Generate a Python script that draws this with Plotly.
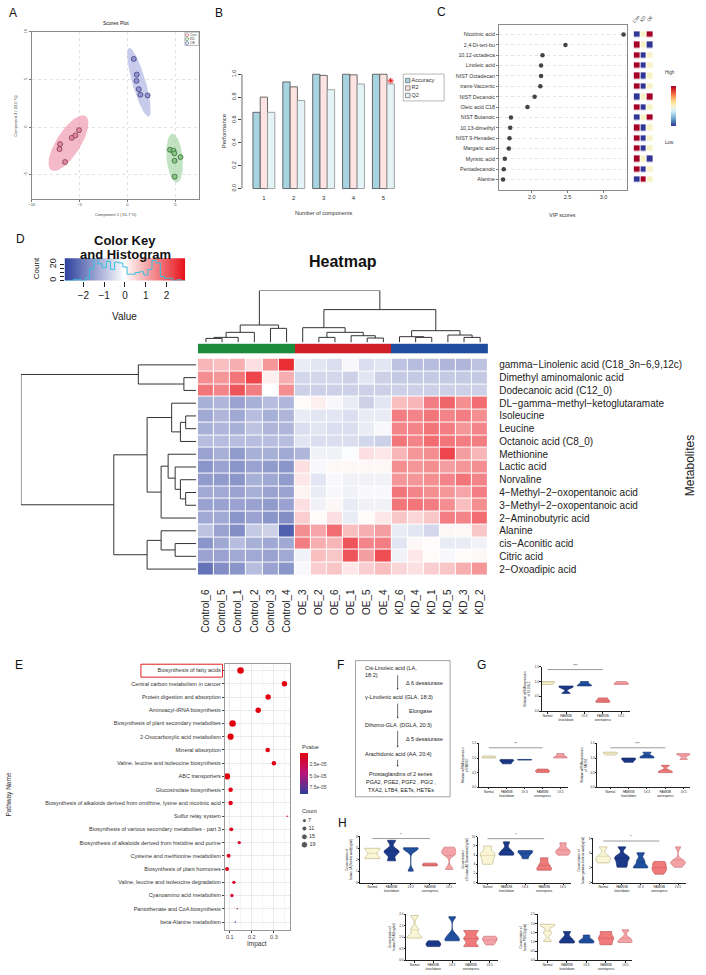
import numpy as np
import plotly.graph_objects as go

W, H = 706, 975
FONT = "Liberation Sans, Arial, sans-serif"

# ---------------- DATA ----------------
# A  PLS-DA scores
pc1_con = [-7.05, -7.11, -6.53, -5.83, -5.45, -5.07]
pc2_con = [-1.77, -2.29, -3.65, -1.11, -0.86, -0.31]
pc1_kd = [4.45, 4.82, 4.90, 5.55, 4.93, 4.93]
pc2_kd = [-2.36, -2.47, -2.74, -3.13, -3.51, -5.18]
pc1_oe = [0.66, 0.97, 0.94, 1.18, 1.35, 2.11]
pc2_oe = [7.16, 5.52, 4.86, 3.99, 3.41, 3.33]

# B  cross validation
n_comp = [1, 2, 3, 4, 5]
accuracy = [0.667, 0.933, 1.0, 1.0, 1.0]
r2 = [0.80, 0.89, 0.99, 0.995, 1.0]
q2 = [0.667, 0.77, 0.865, 0.915, 0.915]

# C  VIP
vip_names = ["Nicotinic acid", "2,4-Di-tert-bu", "10,12-octadeca", "Linoleic acid", "NIST Octadecan",
             "trans-Vaccenic", "NIST Decanoic", "Oleic acid C18", "NIST Butanoic", "10,13-dimethyl",
             "NIST 9-Hexadec", "Margaric acid", "Myristic acid", "Pentadecanoic", "Alanine"]
vip_scores = [3.28, 2.47, 2.15, 2.13, 2.13, 2.12, 2.04, 1.94, 1.71, 1.70, 1.69, 1.68, 1.625, 1.61, 1.60]
vip_groups = ["Con", "KD", "OE"]
vip_levels = [[1, 2, 3], [3, 2, 1], [3, 1, 2], [3, 1, 2], [3, 1, 2], [3, 1, 2], [1, 2, 3], [3, 1, 2],
              [1, 2, 3], [3, 1, 2], [3, 1, 2], [3, 1, 2], [3, 2, 1], [3, 1, 2], [1, 3, 2]]

# D  heatmap
hm_cols = ["Control_6", "Control_5", "Control_1", "Control_2", "Control_3", "Control_4",
           "OE_3", "OE_2", "OE_6", "OE_1", "OE_5", "OE_4",
           "KD_6", "KD_4", "KD_1", "KD_5", "KD_3", "KD_2"]
hm_rows = ["gamma\u2212Linolenic acid (C18_3n\u22126,9,12c)", "Dimethyl aminomalonic acid",
           "Dodecanoic acid (C12_0)", "DL\u2212gamma\u2212methyl\u2212ketoglutaramate", "Isoleucine",
           "Leucine", "Octanoic acid (C8_0)", "Methionine", "Lactic acid", "Norvaline",
           "4\u2212Methyl\u22122\u2212oxopentanoic acid", "3\u2212Methyl\u22122\u2212oxopentanoic acid",
           "2\u2212Aminobutyric acid", "Alanine", "cis\u2212Aconitic acid", "Citric acid", "2\u2212Oxoadipic acid"]
hm_values = [
    [0.9, 0.8, 1.0, 0.4, 1.3, 2.6, -0.3, -0.4, -0.5, -0.1, -0.5, -0.4, -0.9, -1.0, -1.0, -1.1, -1.1, -0.9],
    [1.4, 1.3, 1.7, 2.3, 0.2, 1.0, -0.6, -0.6, -0.6, -0.7, -0.4, -0.7, -0.8, -0.8, -0.8, -0.8, -0.8, -0.8],
    [1.7, 1.5, 2.1, 1.6, 0.0, 1.4, -0.7, -0.7, -0.7, -0.7, -0.7, -0.7, -0.7, -0.7, -0.7, -0.7, -0.7, -0.7],
    [-1.2, -1.1, -1.4, -1.2, -1.0, -1.1, 0.05, 0.2, -0.1, -0.3, -0.7, -0.4, 0.8, 0.9, 1.6, 1.9, 1.4, 1.8],
    [-1.3, -1.1, -1.3, -1.0, -1.2, -1.1, -0.3, -0.4, -0.4, -0.5, -0.3, -0.3, 1.6, 1.5, 1.7, 1.5, 1.6, 1.4],
    [-1.2, -1.1, -1.2, -0.9, -1.1, -1.1, -0.5, -0.4, -0.5, -0.5, -0.3, -0.1, 1.5, 1.5, 1.7, 1.6, 1.3, 1.5],
    [-1.0, -1.0, -1.0, -1.0, -1.0, -1.0, -0.4, -0.5, -0.5, -0.5, -0.6, -0.7, 1.7, 1.5, 1.8, 1.7, 1.6, 1.6],
    [-1.4, -1.2, -1.5, -1.2, -1.2, -1.3, -1.1, -0.2, -0.2, -0.05, 0.4, 0.3, 0.9, 1.3, 1.4, 2.3, 1.2, 0.9],
    [-1.6, -1.4, -1.6, -1.4, -1.5, -1.6, 0.4, -0.1, 0.1, 0.1, 0.1, 0.1, 1.4, 1.3, 1.4, 1.2, 1.3, 1.4],
    [-1.5, -1.5, -1.6, -1.2, -1.3, -1.5, 0.3, -0.4, -0.1, -0.2, -0.2, -0.2, 1.3, 1.3, 1.4, 1.5, 1.7, 1.5],
    [-1.3, -1.3, -1.4, -1.2, -1.4, -1.4, 0.15, -0.3, -0.1, -0.2, -0.1, -0.1, 1.7, 1.5, 1.4, 1.3, 1.1, 1.6],
    [-1.4, -1.4, -1.4, -1.4, -1.5, -1.4, 0.4, -0.2, 0.1, -0.3, -0.2, -0.2, 1.7, 1.7, 1.6, 1.4, 0.8, 1.4],
    [-1.3, -1.3, -1.6, -1.4, -1.6, -1.7, 0.6, 0.05, 0.4, -0.3, 0.05, 0.3, 0.7, 0.5, 0.7, 1.6, 1.5, 1.8],
    [-0.9, -1.4, -1.7, -0.8, -0.7, -2.4, 1.4, 1.1, 1.8, 0.8, 1.0, 1.2, -0.3, -0.4, -0.6, 0.1, 0.1, 0.7],
    [-1.6, -1.3, -1.0, -1.2, -1.3, -1.3, 1.6, 1.0, 0.9, 2.1, 1.5, 1.6, -0.4, 0.1, 0.05, -0.3, -0.3, -0.2],
    [-1.4, -1.4, -1.3, -1.3, -1.4, -1.3, -0.2, 0.8, 0.7, 2.1, 1.2, 2.2, -0.2, 0.3, 0.05, -0.1, 0.05, 0.1],
    [-2.1, -1.7, -1.6, -1.0, -1.4, -1.6, -0.1, 0.6, 0.7, 0.3, 0.6, 0.8, 0.5, 0.4, 0.6, 0.7, 1.0, 1.3],
]
# dendrograms: (left, right, merge height); leaves numbered in display order
col_linkage = [(0, 1, 0.77), (18, 2, 0.97), (19, 3, 1.94), (4, 5, 2.71), (20, 21, 3.35),
               (7, 8, 0.97), (10, 11, 0.84), (9, 24, 1.29), (23, 25, 1.94), (6, 26, 2.84),
               (13, 14, 0.97), (12, 28, 1.10), (16, 17, 0.97), (15, 30, 1.42), (29, 31, 2.26),
               (27, 32, 6.32), (22, 33, 10.0)]
row_linkage = [(1, 2, 0.7), (0, 17, 3.3),
               (14, 15, 1.2), (13, 19, 2.0), (20, 16, 2.8),
               (4, 5, 0.6), (22, 6, 0.9), (3, 23, 1.4), (10, 11, 0.6), (9, 25, 0.9), (8, 26, 1.2),
               (7, 27, 1.6), (28, 12, 2.0), (24, 29, 2.8), (30, 21, 4.7), (18, 31, 10.0)]

# E  pathway enrichment
pathways = ["Biosynthesis of fatty acids", "Central carbon metabolism in cancer",
            "Protein digestion and absorption", "Aminoacyl-tRNA biosynthesis",
            "Biosynthesis of plant secondary metabolites", "2-Oxocarboxylic acid metabolism",
            "Mineral absorption", "Valine, leucine and isoleucine biosynthesis", "ABC transporters",
            "Glucosinolate biosynthesis",
            "Biosynthesis of alkaloids derived from ornithine, lysine and nicotinic acid",
            "Sulfur relay system", "Biosynthesis of various secondary metabolites - part 3",
            "Biosynthesis of alkaloids derived from histidine and purine",
            "Cysteine and methionine metabolism", "Biosynthesis of plant hormones",
            "Valine, leucine and isoleucine degradation", "Cyanoamino acid metabolism",
            "Pantothenate and CoA biosynthesis", "beta-Alanine metabolism"]
impact = [0.149, 0.348, 0.274, 0.229, 0.113, 0.104, 0.272, 0.300, 0.088, 0.104,
          0.104, 0.360, 0.107, 0.143, 0.095, 0.088, 0.119, 0.110, 0.134, 0.125]
pvalue = [1e-7, 2e-7, 3e-7, 4e-7, 1e-7, 2e-7, 1e-6, 2e-6, 1e-6, 3e-6,
          4e-6, 5e-6, 6e-6, 1.2e-5, 8e-6, 6e-6, 1.0e-5, 1.4e-5, 6.0e-5, 8.5e-5]
hits = [19, 13, 13, 13, 19, 17, 9, 9, 17, 9, 9, 1, 7, 5, 7, 7, 5, 5, 1, 1]
count_breaks = [7, 11, 15, 19]

# G / H  violin data
cat_labels = ["Normal", "FAM83B<br>knockdown", "LV-3", "FAM83B<br>overexpress", "LV-5"]
g_elovl5 = [[0.9, 0.98, 1.0], [0.6, 0.8, 0.85], [0.85, 0.88, 1.0], [0.3, 0.35, 0.45], [0.9, 0.92, 1.0]]
g_fads2 = [[1.0, 1.02, 1.07], [0.8, 0.9, 0.95], [0.93, 0.94, 0.95], [0.5, 0.55, 0.62], [1.0, 1.02, 1.15]]
g_fads1 = [[1.1, 1.18, 1.2], [0.85, 0.95, 1.0], [1.0, 1.05, 1.2], [0.5, 0.55, 0.75], [0.95, 1.12, 1.15]]
h_la = [[2.1, 2.2, 2.9, 3.0], [1.9, 2.6, 2.8, 3.7], [1.0, 2.9, 3.0, 3.05], [1.45, 1.5, 1.7],
        [1.15, 2.5, 2.7, 3.1]]
h_d6 = [[4.0, 5.0, 6.0, 6.5, 8.0], [6.0, 6.2, 7.0, 8.9], [5.2, 6.5, 6.8, 7.0], [2.7, 3.0, 4.0, 5.4],
        [6.0, 6.8, 7.0, 8.7]]
h_gla = [[2.7, 3.2, 3.6, 4.9], [2.1, 2.7, 3.3, 3.6, 4.9], [2.0, 2.2, 3.0, 4.1], [1.15, 1.7, 2.0, 2.5, 2.9],
         [2.1, 2.6, 2.8, 3.0, 4.9]]
h_pga2 = [[0.97, 1.02, 1.35, 1.95], [0.6, 0.7, 0.85], [0.85, 0.9, 1.1, 1.9], [0.6, 0.95, 1.3],
          [0.67, 0.85, 0.95, 1.05]]
h_pge2 = [[1.03, 1.5, 1.9, 1.96], [0.94, 1.0, 1.2, 1.57], [0.94, 1.0, 1.1, 1.38], [0.85, 1.1, 1.3, 1.57],
          [0.97, 1.0, 1.2, 1.66]]

# ---------------- helpers ----------------
fig = go.Figure()
annotations, shapes, axes = [], [], {}
counter = [0]


def new_axes(x0, x1, y0, y1, xr=None, yr=None):
    counter[0] += 1
    i = counter[0]
    s = '' if i == 1 else str(i)
    xa = dict(domain=[x0 / W, x1 / W], anchor='y' + s, range=xr, visible=False, showgrid=False,
              zeroline=False, fixedrange=True)
    ya = dict(domain=[1 - y1 / H, 1 - y0 / H], anchor='x' + s, range=yr, visible=False, showgrid=False,
              zeroline=False, fixedrange=True)
    axes['xaxis' + s] = xa
    axes['yaxis' + s] = ya
    return 'x' + s, 'y' + s, xa, ya


def text(t, x, y, size, xanchor='center', yanchor='middle', angle=0, color='#111', bold=False):
    if bold:
        t = '<b>' + t + '</b>'
    annotations.append(dict(text=t, x=x / W, y=1 - y / H, xref='paper', yref='paper', showarrow=False,
                            xanchor=xanchor, yanchor=yanchor, textangle=angle,
                            font=dict(size=size, color=color, family=FONT)))


def rect(x0, y0, x1, y1, color, width=1.0):
    shapes.append(dict(type='rect', xref='paper', yref='paper', x0=x0 / W, x1=x1 / W, y0=1 - y1 / H,
                       y1=1 - y0 / H, line=dict(color=color, width=width), fillcolor='rgba(0,0,0,0)'))


def dendro(linkage, n):
    pos = {i: float(i) for i in range(n)}
    hgt = {i: 0.0 for i in range(n)}
    ps, hs = [], []
    for k, (a, b, h) in enumerate(linkage):
        ps += [pos[a], pos[a], pos[b], pos[b], None]
        hs += [hgt[a], h, h, hgt[b], None]
        pos[n + k] = (pos[a] + pos[b]) / 2
        hgt[n + k] = h
    return ps, hs


def ellipse(xs, ys, level=2.4477):
    pts = np.vstack([xs, ys])
    m = pts.mean(axis=1)
    vals, vecs = np.linalg.eigh(np.cov(pts))
    t = np.linspace(0, 2 * np.pi, 120)
    circ = np.vstack([np.cos(t), np.sin(t)]) * (np.sqrt(vals)[:, None] * level)
    e = vecs @ circ + m[:, None]
    return e[0], e[1]


# panel letters
for L, x, y in [("A", 10, 9.5), ("B", 217, 9.5), ("C", 440.5, 8.5), ("D", 18, 236.5), ("E", 16, 665),
                ("F", 338.5, 665.5), ("G", 481, 665.5), ("H", 341, 824)]:
    text(L, x, y, 12)

# ---------------- A ----------------
xa_id, ya_id, xa, ya = new_axes(29, 197, 28, 196, [-10, 7.5], [-7.5, 10])
axstyle = dict(visible=True, showline=True, mirror=True, linecolor='#8a8a8a', linewidth=0.8,
               showgrid=True, gridcolor='#e2e2e2', griddash='dot', ticks='outside', ticklen=2,
               tickcolor='#777', tickfont=dict(size=4, color='#444'))
xa.update(axstyle, tickvals=[-10, -5, 0, 5])
ya.update(axstyle, tickvals=[-5, 0, 5, 10], tickangle=-90)
text("Scores Plot", 113, 19.3, 5)
text("Component 1 ( 61.7 %)", 113, 212, 4, color='#444')
text("Component 2 ( 22.0 %)", 12.5, 112, 4, angle=-90, color='#444')
grpA = [(pc1_con, pc2_con, 'rgba(238,140,165,0.6)', '#e58aa0', '#6e2a40'),
        (pc1_kd, pc2_kd, 'rgba(160,212,160,0.65)', '#86c686', '#2e5e2e'),
        (pc1_oe, pc2_oe, 'rgba(172,175,228,0.65)', '#9595d4', '#34346e')]
for xs, ys, efill, pfill, pline in grpA:
    ex, ey = ellipse(xs, ys)
    fig.add_trace(go.Scatter(x=ex, y=ey, xaxis=xa_id, yaxis=ya_id, mode='lines', fill='toself',
                             fillcolor=efill, line=dict(width=0), hoverinfo='skip'))
for xs, ys, efill, pfill, pline in grpA:
    fig.add_trace(go.Scatter(x=xs, y=ys, xaxis=xa_id, yaxis=ya_id, mode='markers',
                             marker=dict(size=5, color=pfill, line=dict(color=pline, width=0.7))))
# A legend
rect(182.7, 28.3, 196.7, 41.7, '#888', 0.6)
lx, ly, lxa, lya = new_axes(182.7, 196.7, 28.3, 41.7, [0, 14], [13.4, 0])
fig.add_trace(go.Scatter(x=[2.2, 2.2, 2.2], y=[3, 7, 11], xaxis=lx, yaxis=ly, mode='markers+text',
                         text=["Con", "KD", "OE"], textposition='middle right',
                         textfont=dict(size=3.5, color='#444', family=FONT),
                         marker=dict(size=3, symbol='circle-open', color=['#d9607e', '#4a9a4a', '#6a6ac0'],
                                     line=dict(width=0.7))))

# ---------------- B ----------------
xa_id, ya_id, xa, ya = new_axes(240, 398, 61.5, 190.3, [0.267, 5.533], [-0.04, 1.08])
xa.update(visible=True, showline=False, tickvals=n_comp, ticks='', tickfont=dict(size=6, color='#333'))
ya.update(visible=True, showline=False, tickvals=[0, 0.2, 0.4, 0.6, 0.8, 1.0],
          ticktext=["0.0", "0.2", "0.4", "0.6", "0.8", "1.0"], tickangle=-90, ticks='outside', ticklen=3,
          tickcolor='#444', tickfont=dict(size=5.5, color='#333'))
shapes.append(dict(type='line', xref=xa_id + ' domain', yref=ya_id, x0=0, x1=0, y0=0, y1=1,
                   line=dict(color='#444', width=0.8)))
for vals, col, lc in [(accuracy, '#a8d4e2', '#5a5a5a'), (r2, '#fde3e1', '#5a5a5a'), (q2, '#e3f3f6', '#9a9a9a')]:
    fig.add_trace(go.Bar(x=n_comp, y=vals, xaxis=xa_id, yaxis=ya_id, marker=dict(color=col, line=dict(color=lc, width=0.9))))
fig.add_trace(go.Scatter(x=[n_comp[-1] + 0.244], y=[q2[-1] + 0.028], xaxis=xa_id, yaxis=ya_id, mode='markers',
                         marker=dict(symbol='asterisk-open', size=5, color='#e02020', line=dict(color='#e02020', width=1))))
text("Performance", 222, 128, 6, angle=-90, color='#333')
text("Number of components", 322, 210, 5.5, color='#333')
rect(402, 70.5, 443, 97.5, '#999', 0.7)
bx, by, bxa, bya = new_axes(402, 443, 70.5, 97.5, [0, 41], [27, 0])
fig.add_trace(go.Scatter(x=[4.5, 4.5, 4.5], y=[6.5, 14, 21.5], xaxis=bx, yaxis=by, mode='markers+text',
                         text=["Accuracy", "R2", "Q2"], textposition='middle right',
                         textfont=dict(size=5.5, color='#333', family=FONT),
                         marker=dict(symbol='square', size=4.5, color=['#a8d4e2', '#fde3e1', '#e3f3f6'],
                                     line=dict(color='#666', width=0.7))))

# ---------------- C ----------------
yrC = [14.99, -0.96]
xa_id, ya_id, xa, ya = new_axes(498, 627, 20.7, 187, [1.542, 3.333], yrC)
xa.update(visible=True, showline=True, mirror=True, linecolor='#8a8a8a', linewidth=0.8, tickvals=[2.0, 2.5, 3.0],
          ticktext=["2.0", "2.5", "3.0"], ticks='outside', ticklen=2, tickcolor='#777',
          tickfont=dict(size=5.5, color='#333'))
ya.update(visible=True, showline=True, mirror=True, linecolor='#8a8a8a', linewidth=0.8,
          tickvals=list(range(15)), ticktext=vip_names, ticks='outside', ticklen=2, tickcolor='#777',
          tickfont=dict(size=5.3, color='#333'), showgrid=True, gridcolor='#e4e4e4', griddash='dot')
fig.add_trace(go.Scatter(x=vip_scores, y=list(range(15)), xaxis=xa_id, yaxis=ya_id, mode='markers',
                         marker=dict(size=4.5, color='#444')))
text("VIP scores", 562, 212, 5.5, color='#333')
sx, sy, sxa, sya = new_axes(633.3, 653.3, 20.7, 187, [-0.5, 2.5], yrC)
rdylbu = [[0, '#313695'], [0.1, '#4575b4'], [0.2, '#74add1'], [0.3, '#abd9e9'], [0.4, '#e0f3f8'],
          [0.5, '#f7f3c6'], [0.6, '#fee090'], [0.7, '#fdae61'], [0.8, '#f46d43'], [0.9, '#d73027'],
          [1.0, '#a50026']]
fig.add_trace(go.Heatmap(z=vip_levels, x=[0, 1, 2], y=list(range(15)), xaxis=sx, yaxis=sy, zmin=1, zmax=3,
                         colorscale=rdylbu, xgap=1, ygap=4.6,
                         colorbar=dict(x=661 / W, xanchor='left', y=1 - 103 / H, yanchor='middle',
                                       len=60, lenmode='pixels', thickness=5, thicknessmode='pixels',
                                       showticklabels=False, ticks='', outlinewidth=0)))
for j, g in enumerate(vip_groups):
    text(g, 636.6 + 6.7 * j, 15, 4.5, angle=-50, color='#333')
text("High", 663, 68.5, 4.5, xanchor='left', color='#333')
text("Low", 663, 139, 4.5, xanchor='left', color='#333')

# ---------------- D ----------------
HM_SCALE = [[0, '#2b3f9e'], [0.5, '#ffffff'], [1, '#e8141c']]
ZL = 2.9
# color key with histogram
kx, ky, kxa, kya = new_axes(62, 183, 255.7, 278.3, [-ZL, ZL], [0, 28])
key_x = np.linspace(-ZL, ZL, 121)
fig.add_trace(go.Heatmap(z=[key_x, key_x], x=key_x, y=[0, 28], xaxis=kx, yaxis=ky, zmin=-ZL, zmax=ZL,
                         colorscale=HM_SCALE, showscale=False, hoverinfo='skip'))
allv = np.array(hm_values).ravel()
cnt, edges = np.histogram(allv, bins=np.arange(-ZL, ZL + 0.01, 0.2))
fig.add_trace(go.Scatter(x=edges, y=np.append(cnt, cnt[-1]), xaxis=kx, yaxis=ky, mode='lines',
                         line=dict(color='#35c0df', width=1, shape='hv'), hoverinfo='skip'))
kxa.update(visible=True, showline=False, tickvals=[-2, -1, 0, 1, 2], ticktext=["\u22122", "\u22121", "0", "1", "2"],
           ticks='outside', ticklen=5, tickcolor='#222', tickfont=dict(size=10, color='#222'))
kya.update(visible=True, showline=False, tickvals=[0, 5, 10, 15, 20], ticktext=["0", "", "", "", "20"],
           tickangle=-90, ticks='outside', ticklen=4, tickcolor='#222', tickfont=dict(size=9, color='#222'))
text("Color Key", 123, 238, 13, bold=True)
text("and Histogram", 123, 252.5, 13, bold=True)
text("Value", 122, 314, 10, color='#222')
text("Count", 34, 266, 8, angle=-90, color='#222')
text("Heatmap", 341.5, 259, 16, bold=True)
text("Metabolites", 690, 465, 12, angle=-90, color='#222')

n_r, n_c = len(hm_rows), len(hm_cols)
HX0, HX1, HY0, HY1 = 195.7, 487.3, 356.7, 575
# column dendrogram
cx, cy, cxa, cya = new_axes(HX0, HX1, 288.3, 340.5, [-0.5, n_c - 0.5], [0, 10])
ps, hs = dendro(col_linkage, n_c)
fig.add_trace(go.Scatter(x=ps, y=hs, xaxis=cx, yaxis=cy, mode='lines', line=dict(color='#333', width=1)))
# side colour bar
grp_id = [0 if c.startswith("Control") else (1 if c.startswith("OE") else 2) for c in hm_cols]
gx, gy, gxa, gya = new_axes(HX0, HX1, 341.7, 351.7, [-0.5, n_c - 0.5], [-0.5, 0.5])
fig.add_trace(go.Heatmap(z=[grp_id], x=list(range(n_c)), y=[0], xaxis=gx, yaxis=gy, zmin=0, zmax=2,
                         colorscale=[[0, '#1b8a3a'], [0.25, '#1b8a3a'], [0.25, '#cf1f27'], [0.75, '#cf1f27'],
                                     [0.75, '#1f4c9c'], [1, '#1f4c9c']], showscale=False))
# heatmap
hx, hy, hxa, hya = new_axes(HX0, HX1, HY0, HY1, [-0.5, n_c - 0.5], [n_r - 0.5, -0.5])
fig.add_trace(go.Heatmap(z=hm_values, x=list(range(n_c)), y=list(range(n_r)), xaxis=hx, yaxis=hy,
                         zmin=-ZL, zmax=ZL, colorscale=HM_SCALE, showscale=False, xgap=1, ygap=1))
hxa.update(visible=True, showline=False, tickvals=list(range(n_c)), ticktext=hm_cols, tickangle=-90,
           ticks='outside', ticklen=9, tickcolor='rgba(0,0,0,0)', tickfont=dict(size=10, color='#222'))
hya.update(visible=True, showline=False, side='right', tickvals=list(range(n_r)), ticktext=hm_rows,
           ticks='outside', ticklen=8, tickcolor='rgba(0,0,0,0)', tickfont=dict(size=10, color='#222'))
# row dendrogram
rx, ry, rxa, rya = new_axes(18, 194, HY0, HY1, [10, 0], [n_r - 0.5, -0.5])
ps, hs = dendro(row_linkage, n_r)
fig.add_trace(go.Scatter(x=hs, y=ps, xaxis=rx, yaxis=ry, mode='lines', line=dict(color='#333', width=1)))

# ---------------- E ----------------
ex_, ey_, exa, eya = new_axes(222.7, 288, 664, 931.7, [0.0775, 0.372], [19.6, -0.5])
exa.update(visible=True, showline=True, mirror=True, linecolor='#9a9a9a', linewidth=0.7, showgrid=True,
           gridcolor='#ebebeb', gridwidth=0.6, tickvals=[0.1, 0.2, 0.3], ticks='outside', ticklen=2,
           tickcolor='#444', tickfont=dict(size=5.5, color='#444'),
           minor=dict(tickvals=[0.15, 0.25, 0.35], showgrid=True, gridcolor='#f5f5f5', ticks=''))
eya.update(visible=True, showline=True, mirror=True, linecolor='#9a9a9a', linewidth=0.7, showgrid=True,
           gridcolor='#ebebeb', gridwidth=0.6, tickvals=list(range(len(pathways))), ticktext=pathways,
           ticks='outside', ticklen=2, tickcolor='#444', tickfont=dict(size=5.5, color='#333'))


def hit_size(c):
    return 1.5 * np.sqrt(c)


E_SCALE = [[0, '#2f3f9c'], [0.5, '#b8157a'], [1, '#e3000f']]
fig.add_trace(go.Scatter(x=impact, y=list(range(len(pathways))), xaxis=ex_, yaxis=ey_, mode='markers',
                         marker=dict(size=[hit_size(c) for c in hits], color=[-p for p in pvalue],
                                     cmin=-9e-5, cmax=0, colorscale=E_SCALE, line=dict(width=0), opacity=1,
                                     colorbar=dict(x=298 / W, xanchor='left', y=1 - 774.5 / H, yanchor='middle',
                                                   len=41, lenmode='pixels', thickness=8, thicknessmode='pixels',
                                                   tickvals=[-2.5e-5, -5e-5, -7.5e-5],
                                                   ticktext=["2.5e-05", "5.0e-05", "7.5e-05"],
                                                   ticks='', tickfont=dict(size=5, color='#444'),
                                                   outlinewidth=0, xpad=0, ypad=0))))
text("Pvalue", 298, 748, 5.5, xanchor='left', color='#333')
text("Impact", 255, 945.5, 6.5, color='#333')
text("Pathway Name", 6.5, 795, 6.5, angle=-90, color='#333')
rect(138.5, 664.3, 220.5, 677.3, '#e02020', 1)
text("Count", 298, 811.7, 5.5, xanchor='left', color='#333')
cx2, cy2, _, _ = new_axes(298, 330, 806, 850, [0, 32], [44, 0])
fig.add_trace(go.Scatter(x=[4.7] * 4, y=[15.7, 23.7, 32, 40], xaxis=cx2, yaxis=cy2, mode='markers+text',
                         text=[str(c) for c in count_breaks], textposition='middle right',
                         textfont=dict(size=5.5, color='#333', family=FONT),
                         marker=dict(size=[hit_size(c) for c in count_breaks], color='#111')))

# ---------------- F ----------------
rect(354, 660.7, 449, 797.7, '#777', 0.7)
FL = 362
text("Cis-Linoleic acid (LA,", FL, 668, 5.5, xanchor='left', color='#222')
text("18:2)", FL, 675.5, 5.5, xanchor='left', color='#222')
text("\u0394 6 desaturase", 403, 683.3, 5.5, xanchor='left', color='#222')
text("\u03b3-Linolenic acid (GLA, 18:3)", FL, 697.3, 5.5, xanchor='left', color='#222')
text("Elongase", 406, 711.7, 5.5, xanchor='left', color='#222')
text("Dihomo-GLA  (DGLA, 20:3)", FL, 725.7, 5.5, xanchor='left', color='#222')
text("\u0394 5 desaturase", 403, 740, 5.5, xanchor='left', color='#222')
text("Arachidonic acid (AA, 20:4)", FL, 754.3, 5.5, xanchor='left', color='#222')
text("Prostaglandins of 2 series", 400, 775, 5.5, color='#222')
text("PGA2, PGE2, PGF2 , PGI2 ,", 400, 783.3, 5.5, color='#222')
text("TXA2, LTB4, EETs, HETEs", 400, 791.3, 5.5, color='#222')
for y0, y1 in [(674, 690), (702.5, 719), (730, 748), (759, 767.5)]:
    annotations.append(dict(text='', x=396.3 / W, y=1 - y1 / H, xref='paper', yref='paper', showarrow=True,
                            ax=0, ay=-(y1 - y0), axref='pixel', ayref='pixel', arrowhead=2, arrowsize=0.5,
                            arrowwidth=0.7, arrowcolor='#333'))

# ---------------- G / H ----------------
vfill = ['#faf5d6', '#1b3a8a', '#20509e', '#ee7a7a', '#f3a2a6']
vline = ['#b5ad78', '#0d2260', '#0f2d6e', '#b84848', '#c86a70']


def violin_panel(x0, x1, y0, y1, xr, ymax, ytv, ytt, groups, ytitle, ytx, sig, bw):
    vx, vy, vxa, vya = new_axes(x0, x1, y0, y1, xr, [0, ymax])
    st = dict(visible=True, showline=True, linecolor='#222', linewidth=0.6, ticks='outside', ticklen=1.5,
              tickwidth=0.5, tickcolor='#222', tickfont=dict(size=3, color='#222'))
    vxa.update(st, tickvals=list(range(5)), ticktext=cat_labels, tickangle=0)
    vya.update(st, tickvals=ytv, ticktext=ytt)
    for i, vals in enumerate(groups):
        fig.add_trace(go.Violin(x=[i] * len(vals), y=vals, xaxis=vx, yaxis=vy, width=0.78, spanmode='hard',
                                points=False, fillcolor=vfill[i], line=dict(color=vline[i], width=0.6),
                                meanline=dict(visible=True, color=vline[i], width=0.5), bandwidth=bw,
                                scalemode='width', hoverinfo='skip', opacity=1))
    text(ytitle, ytx, (y0 + y1) / 2, 3, angle=-90, color='#222')
    if sig:
        lev, star = sig
        shapes.append(dict(type='line', xref=vx, yref=vy, x0=0, x1=3, y0=lev, y1=lev,
                           line=dict(color='#555', width=0.6)))
        annotations.append(dict(text=star, x=1.5, y=lev, xref=vx, yref=vy, showarrow=False, yanchor='bottom',
                                font=dict(size=4, color='#333', family=FONT)))


gt = [0, 0.5, 1.0, 1.5]
gtt = ["0.0", "0.5", "1.0", "1.5"]
violin_panel(541, 630, 666.7, 711.7, [-0.32, 4.49], 1.5, gt, gtt, g_elovl5,
             "Relative mRNA expression<br>of ELOVL5", 526, (1.4, "***"), 0.05)
violin_panel(478, 567, 744, 788, [-0.55, 4.4], 1.5, gt, gtt, g_fads2,
             "Relative mRNA expression<br>of FADS2", 464, (1.35, "**"), 0.05)
violin_panel(597, 690, 744, 788, [-0.7, 4.35], 1.5, gt, gtt, g_fads1,
             "Relative mRNA expression<br>of FADS1", 584, (1.35, "***"), 0.05)
violin_panel(359, 455, 838, 884, [-0.62, 4.36], 4, [0, 1, 2, 3, 4], ["0", "1", "2", "3", "4"], h_la,
             "Concentration of<br>human LA (linoleic acid)(ng/ml)", 347, (3.85, "*"), 0.25)
violin_panel(477, 570, 838, 884, [-0.51, 4.4], 10, [0, 2, 4, 6, 8, 10], ["0", "2", "4", "6", "8", "10"], h_d6,
             "Concentration<br>of human \u03946 Desaturase(ng/ml)", 464, (9.6, "*"), 0.6)
violin_panel(593, 686, 840, 884, [-0.52, 4.43], 6, [0, 2, 4, 6], ["0", "2", "4", "6"], h_gla,
             "Concentration of<br>human gamma-linolenic acid(ng/ml)", 580, (5.7, "*"), 0.35)
violin_panel(405, 497, 916, 962.3, [-0.44, 4.43], 2.0, [0, 0.5, 1.0, 1.5, 2.0],
             ["0.0", "0.5", "1.0", "1.5", "2.0"], h_pga2, "Concentration of<br>human PGA2(ng/ml)", 391, None, 0.12)
violin_panel(537, 632, 916, 962.3, [-0.5, 4.35], 2.5, [0, 0.5, 1.0, 1.5, 2.0, 2.5],
             ["0.0", "0.5", "1.0", "1.5", "2.0", "2.5"], h_pge2, "Concentration of<br>human PGE2(ng/ml)", 523, None, 0.12)

fig.update_layout(width=W, height=H, margin=dict(l=0, r=0, t=0, b=0), paper_bgcolor='white',
                  plot_bgcolor='white', showlegend=False, font=dict(family=FONT, color='#222'),
                  violinmode='overlay', barmode='group', bargap=0.267, bargroupgap=0,
                  annotations=annotations, shapes=shapes, **axes)
fig.write_html("out.html", config={'displayModeBar': False},
               post_script="document.body.style.margin='0';")
